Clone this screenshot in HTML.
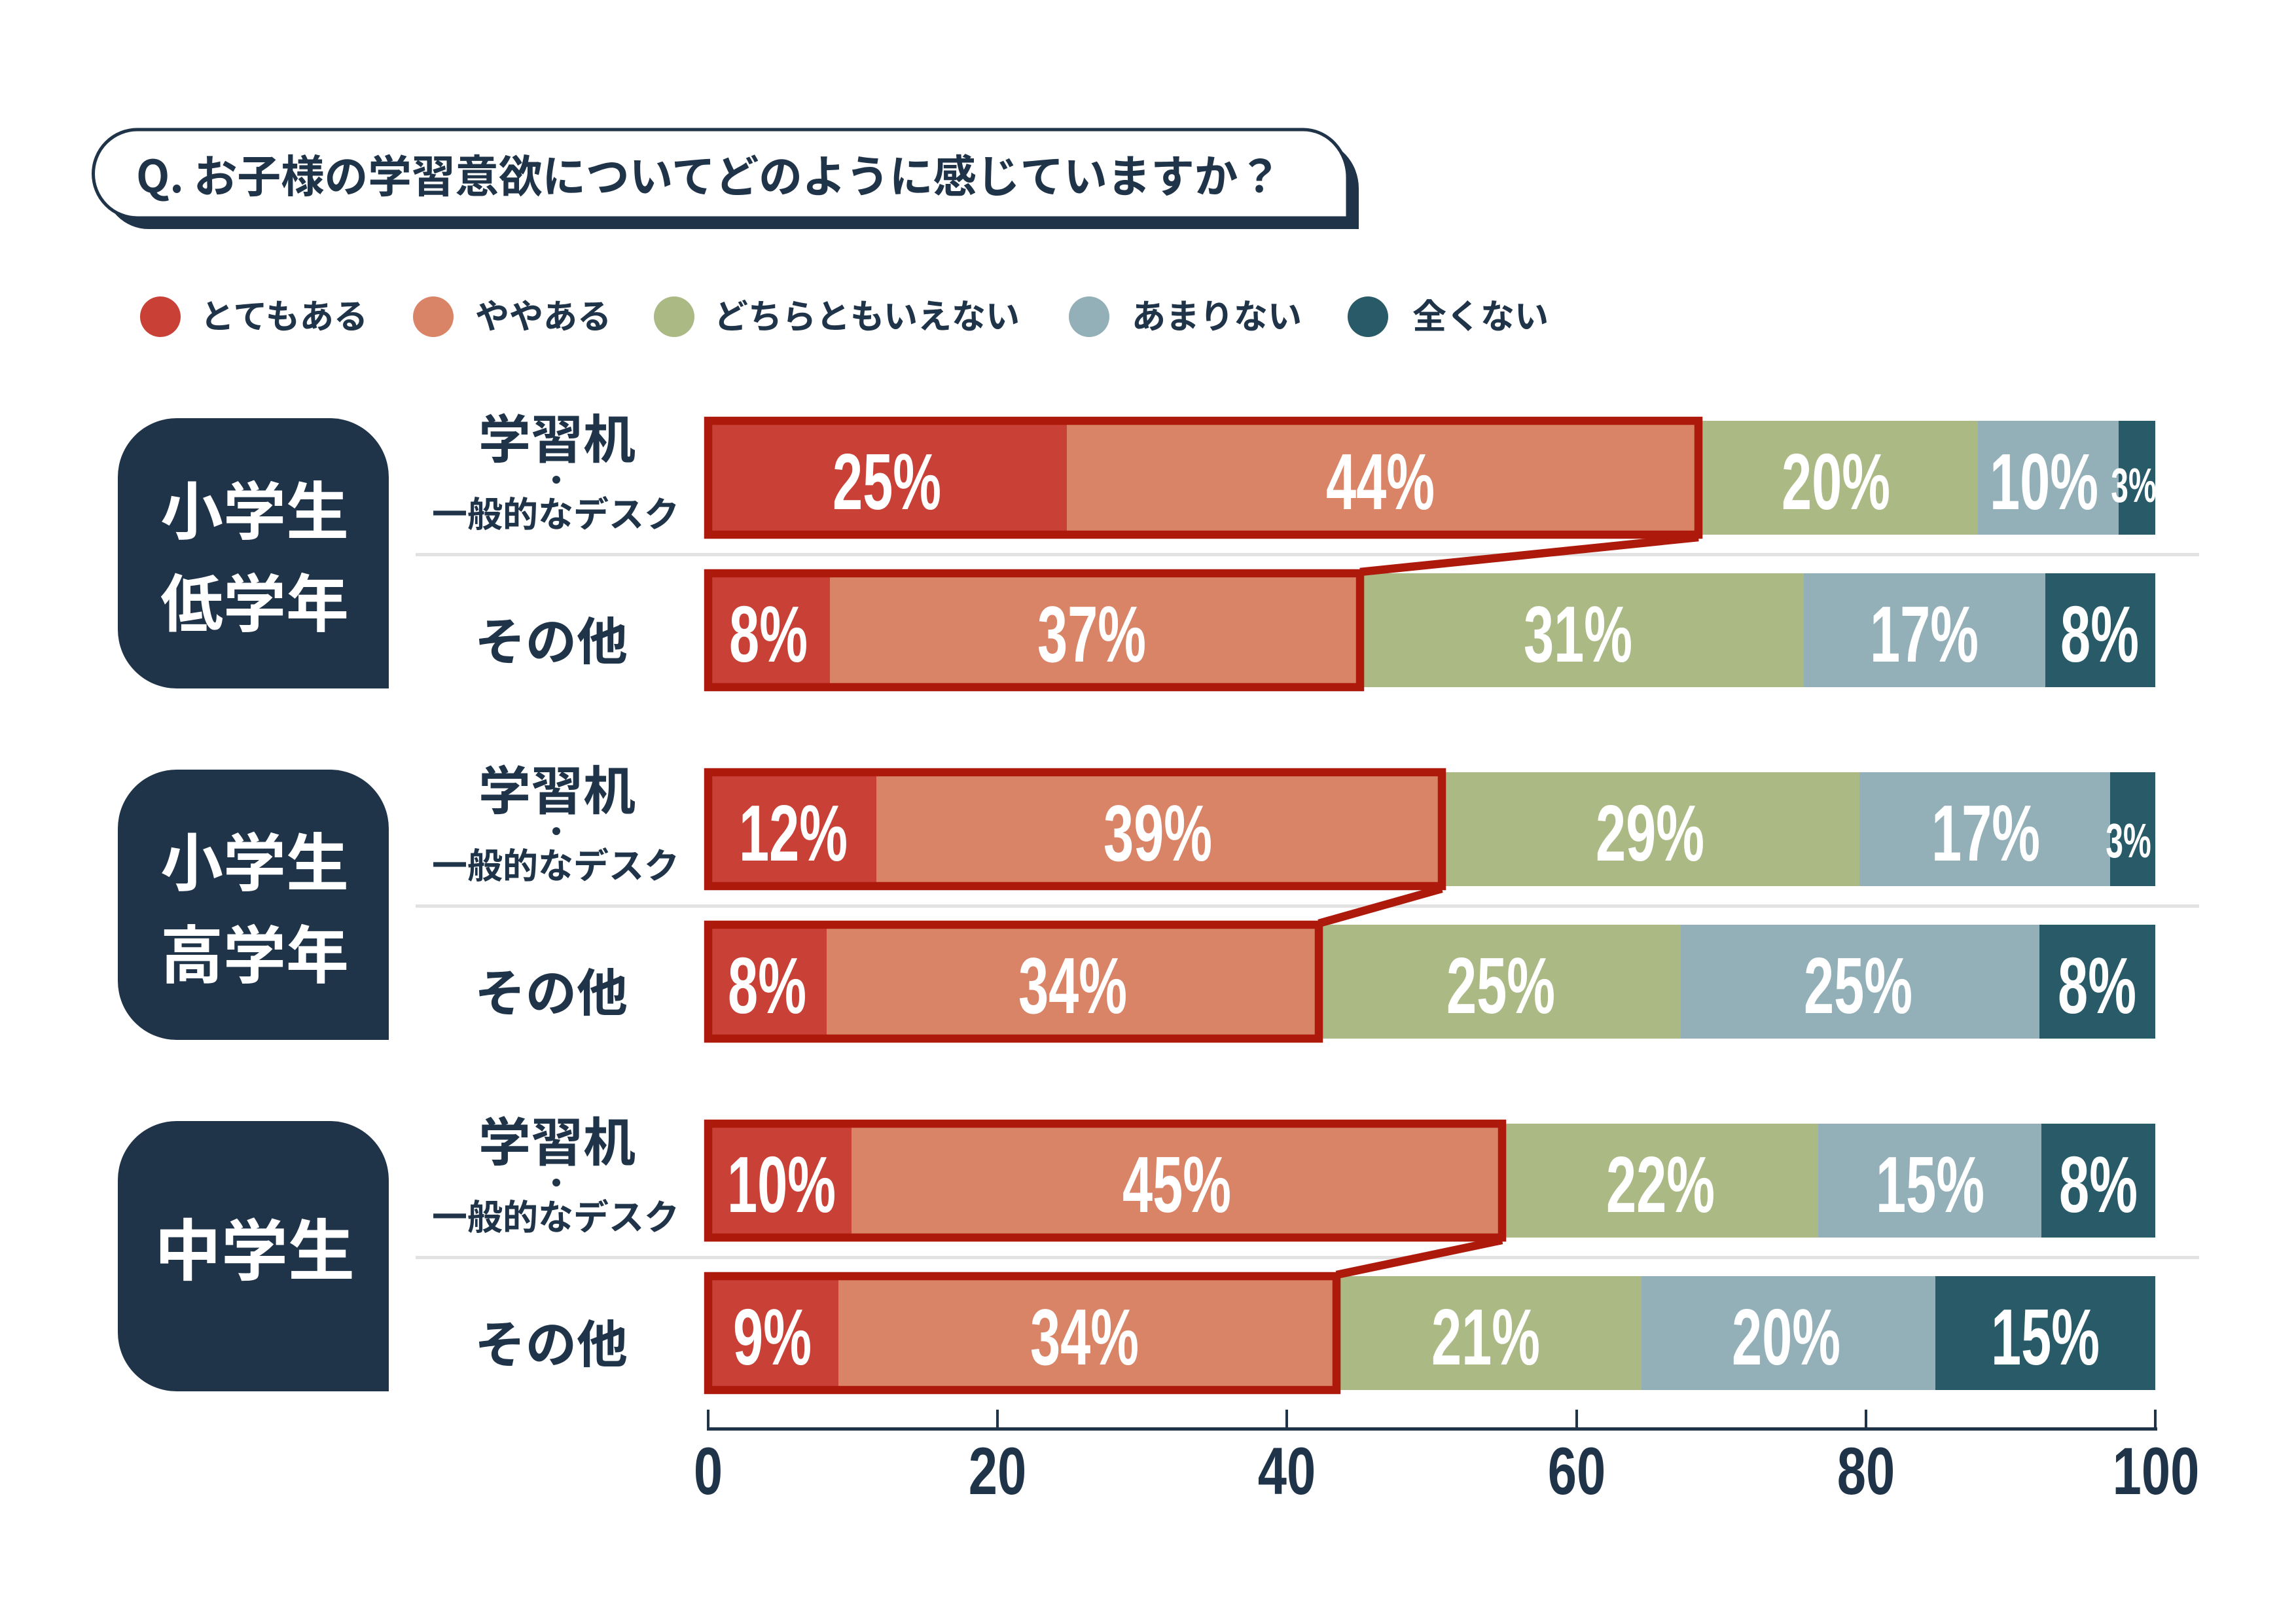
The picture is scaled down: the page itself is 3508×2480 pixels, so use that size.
<!DOCTYPE html>
<html><head><meta charset="utf-8"><style>
html,body{margin:0;padding:0;background:#fff;}
svg{display:block;}
text{font-family:"Liberation Sans","Noto Sans CJK JP",sans-serif;}
.jp{font-family:"Noto Sans CJK JP","Liberation Sans",sans-serif;font-weight:700;}
.pct{font-family:"Liberation Sans",sans-serif;font-weight:700;fill:#fff;}
</style></head><body>
<svg width="3508" height="2480" viewBox="0 0 3508 2480" xmlns="http://www.w3.org/2000/svg">
<rect width="3508" height="2480" fill="#fff"/>
<path d="M227,215 H2008 A68 73 0 0 1 2076,288 V350 H227 A67.5 67.5 0 0 1 227,215 Z" fill="#1f3349"/>
<path d="M210,198 H1991 A68 73 0 0 1 2059,271 V333 H210 A67.5 67.5 0 0 1 210,198 Z" fill="#fff" stroke="#1f3349" stroke-width="5"/>
<text class="jp" x="208" y="294" font-size="68" fill="#1f3349" textLength="1750" lengthAdjust="spacingAndGlyphs">Q. お子様の学習意欲についてどのように感じていますか？</text>
<g class="jp" font-size="52" fill="#1f3349">
<circle cx="245" cy="484" r="31" fill="#c84036"/><text x="306" y="502">とてもある</text>
<circle cx="662" cy="484" r="31" fill="#d98367"/><text x="726" y="502">ややある</text>
<circle cx="1030" cy="484" r="31" fill="#abb985"/><text x="1091" y="502">どちらともいえない</text>
<circle cx="1664" cy="484" r="31" fill="#93afb8"/><text x="1729" y="502">あまりない</text>
<circle cx="2090" cy="484" r="31" fill="#285a68"/><text x="2158" y="502">全くない</text>
</g>
<g fill="#1f3349">
<path d="M270,639 H504 A90 90 0 0 1 594,729 V1052 H270 A90 90 0 0 1 180,962 V729 A90 90 0 0 1 270,639 Z"/>
<path d="M270,1176 H504 A90 90 0 0 1 594,1266 V1589 H270 A90 90 0 0 1 180,1499 V1266 A90 90 0 0 1 270,1176 Z"/>
<path d="M270,1713 H504 A90 90 0 0 1 594,1803 V2126 H270 A90 90 0 0 1 180,2036 V1803 A90 90 0 0 1 270,1713 Z"/>
</g>
<g class="jp" fill="#fff" text-anchor="middle">
<text x="389" y="816" font-size="96">小学生</text>
<text x="389" y="957" font-size="96">低学年</text>
<text x="389" y="1353" font-size="96">小学生</text>
<text x="389" y="1494" font-size="96">高学年</text>
<text x="389" y="1948" font-size="102">中学生</text>
</g>
<g class="jp" fill="#1f3349" text-anchor="middle">
<text x="851" y="700" font-size="80">学習机</text>
<circle cx="850" cy="733" r="6"/>
<text x="849" y="805" font-size="54">一般的なデスク</text>
<text x="842" y="1008" font-size="78">その他</text>
<text x="851" y="1237" font-size="80">学習机</text>
<circle cx="850" cy="1270" r="6"/>
<text x="849" y="1342" font-size="54">一般的なデスク</text>
<text x="842" y="1545" font-size="78">その他</text>
<text x="851" y="1774" font-size="80">学習机</text>
<circle cx="850" cy="1807" r="6"/>
<text x="849" y="1879" font-size="54">一般的なデスク</text>
<text x="842" y="2082" font-size="78">その他</text>
</g>
<g fill="#e2e2e2">
<rect x="635" y="845" width="2725" height="5"/>
<rect x="635" y="1382" width="2725" height="5"/>
<rect x="635" y="1919" width="2725" height="5"/>
</g>
<g>
<rect x="1082" y="643" width="548" height="174" fill="#c84036"/>
<rect x="1630" y="643" width="965" height="174" fill="#d98367"/>
<rect x="2595" y="643" width="427" height="174" fill="#abb985"/>
<rect x="3022" y="643" width="215" height="174" fill="#93afb8"/>
<rect x="3237" y="643" width="56" height="174" fill="#285a68"/>

<rect x="1082" y="876" width="186" height="174" fill="#c84036"/>
<rect x="1268" y="876" width="810" height="174" fill="#d98367"/>
<rect x="2078" y="876" width="678" height="174" fill="#abb985"/>
<rect x="2756" y="876" width="369" height="174" fill="#93afb8"/>
<rect x="3125" y="876" width="168" height="174" fill="#285a68"/>

<rect x="1082" y="1180" width="257" height="174" fill="#c84036"/>
<rect x="1339" y="1180" width="864" height="174" fill="#d98367"/>
<rect x="2203" y="1180" width="638" height="174" fill="#abb985"/>
<rect x="2841" y="1180" width="383" height="174" fill="#93afb8"/>
<rect x="3224" y="1180" width="69" height="174" fill="#285a68"/>

<rect x="1082" y="1413" width="181" height="174" fill="#c84036"/>
<rect x="1263" y="1413" width="752" height="174" fill="#d98367"/>
<rect x="2015" y="1413" width="553" height="174" fill="#abb985"/>
<rect x="2568" y="1413" width="548" height="174" fill="#93afb8"/>
<rect x="3116" y="1413" width="177" height="174" fill="#285a68"/>

<rect x="1082" y="1717" width="219" height="174" fill="#c84036"/>
<rect x="1301" y="1717" width="994" height="174" fill="#d98367"/>
<rect x="2295" y="1717" width="483" height="174" fill="#abb985"/>
<rect x="2778" y="1717" width="341" height="174" fill="#93afb8"/>
<rect x="3119" y="1717" width="174" height="174" fill="#285a68"/>

<rect x="1082" y="1950" width="199" height="174" fill="#c84036"/>
<rect x="1281" y="1950" width="761" height="174" fill="#d98367"/>
<rect x="2042" y="1950" width="466" height="174" fill="#abb985"/>
<rect x="2508" y="1950" width="449" height="174" fill="#93afb8"/>
<rect x="2957" y="1950" width="336" height="174" fill="#285a68"/>
</g>
<g fill="none" stroke="#ad1a0c" stroke-width="12.5">
<rect x="1082" y="643" width="1513" height="174"/>
<rect x="1082" y="876" width="996" height="174"/>
<line x1="2595" y1="821" x2="2078" y2="874"/>
<rect x="1082" y="1180" width="1121" height="174"/>
<rect x="1082" y="1413" width="933" height="174"/>
<line x1="2203" y1="1358" x2="2015" y2="1411"/>
<rect x="1082" y="1717" width="1213" height="174"/>
<rect x="1082" y="1950" width="960" height="174"/>
<line x1="2295" y1="1895" x2="2042" y2="1948"/>
</g>
<g class="pct" font-size="122" text-anchor="middle">
<text transform="translate(1355,778) scale(0.68,1)">25%</text>
<text transform="translate(2109,778) scale(0.68,1)">44%</text>
<text transform="translate(2805,778) scale(0.68,1)">20%</text>
<text transform="translate(3123,778) scale(0.68,1)">10%</text>
<text transform="translate(1174,1011) scale(0.68,1)">8%</text>
<text transform="translate(1668,1011) scale(0.68,1)">37%</text>
<text transform="translate(2411,1011) scale(0.68,1)">31%</text>
<text transform="translate(2940,1011) scale(0.68,1)">17%</text>
<text transform="translate(3208,1011) scale(0.68,1)">8%</text>
<text transform="translate(1212,1315) scale(0.68,1)">12%</text>
<text transform="translate(1769,1315) scale(0.68,1)">39%</text>
<text transform="translate(2521,1315) scale(0.68,1)">29%</text>
<text transform="translate(3034,1315) scale(0.68,1)">17%</text>
<text transform="translate(1172,1548) scale(0.68,1)">8%</text>
<text transform="translate(1639,1548) scale(0.68,1)">34%</text>
<text transform="translate(2293,1548) scale(0.68,1)">25%</text>
<text transform="translate(2839,1548) scale(0.68,1)">25%</text>
<text transform="translate(3204,1548) scale(0.68,1)">8%</text>
<text transform="translate(1194,1852) scale(0.68,1)">10%</text>
<text transform="translate(1798,1852) scale(0.68,1)">45%</text>
<text transform="translate(2537,1852) scale(0.68,1)">22%</text>
<text transform="translate(2949,1852) scale(0.68,1)">15%</text>
<text transform="translate(3206,1852) scale(0.68,1)">8%</text>
<text transform="translate(1180,2085) scale(0.68,1)">9%</text>
<text transform="translate(1657,2085) scale(0.68,1)">34%</text>
<text transform="translate(2270,2085) scale(0.68,1)">21%</text>
<text transform="translate(2729,2085) scale(0.68,1)">20%</text>
<text transform="translate(3125,2085) scale(0.68,1)">15%</text>
</g>
<g class="pct" font-size="74" text-anchor="middle">
<text transform="translate(3260,767) scale(0.65,1)">3%</text>
<text transform="translate(3252,1310) scale(0.65,1)">3%</text>
</g>
<g fill="#1f3349">
<rect x="1080" y="2181" width="2216" height="5"/>
<rect x="1080" y="2154" width="4" height="32"/>
<rect x="1522" y="2154" width="4" height="32"/>
<rect x="1964" y="2154" width="4" height="32"/>
<rect x="2407" y="2154" width="4" height="32"/>
<rect x="2849" y="2154" width="4" height="32"/>
<rect x="3291" y="2154" width="4" height="32"/>
</g>
<g font-size="102" fill="#1f3349" font-weight="700" text-anchor="middle" font-family="Liberation Sans, sans-serif">
<text transform="translate(1082,2283) scale(0.78,1)">0</text>
<text transform="translate(1524,2283) scale(0.78,1)">20</text>
<text transform="translate(1966,2283) scale(0.78,1)">40</text>
<text transform="translate(2409,2283) scale(0.78,1)">60</text>
<text transform="translate(2851,2283) scale(0.78,1)">80</text>
<text transform="translate(3294,2283) scale(0.78,1)">100</text>
</g>
</svg>
</body></html>
